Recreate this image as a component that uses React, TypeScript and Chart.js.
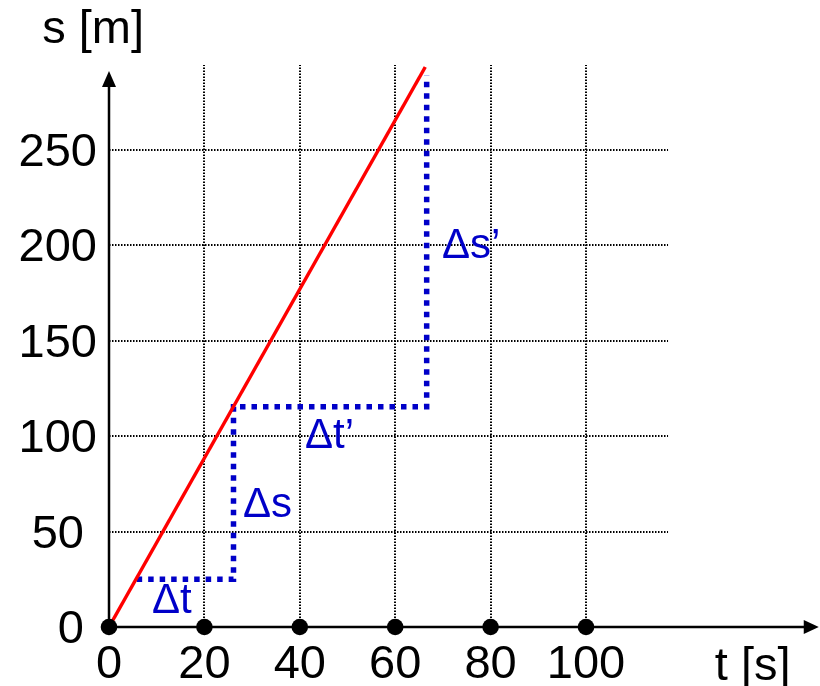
import React, { useEffect, useRef } from "react";
import { Chart, registerables } from "chart.js";

Chart.register(...registerables);

// ---- data ----
const xTicks = [0, 20, 40, 60, 80, 100];
const yTicks = [0, 50, 100, 150, 200, 250];
const xTickLabels = ["0", "20", "40", "60", "80", "100"];
const yTickLabels = ["0", "50", "100", "150", "200", "250"];

// s(t) red line
const lineT = [0, 66.3];
const lineS = [0, 293.5];

// blue dotted step path (Δt, Δs, Δt', Δs')
const pathT = [5.8, 26.1, 26.1, 66.6, 66.6];
const pathS = [25.0, 25.0, 115.5, 115.5, 289];

// markers on the t axis
const dotT = [0, 20, 40, 60, 80, 100];
const dotS = [0, 0, 0, 0, 0, 0];

// Δ labels
const deltaTexts = ["Δt", "Δs", "Δt’", "Δs’"];
const deltaT = [9.0, 28.1, 41.1, 69.8];
const deltaS = [7.3, 57.7, 93.8, 193.4];

// grid / axis extents
const gridTopS = 294.5;
const gridRightT = 117.2;
const yAxisTopS = 291.4;
const xAxisEndT = 148.8;

const yTitle = "s [m]";
const xTitle = "t [s]";
const yTitleT = -14.0;
const yTitleS = 306.0;
const xTitleT = 127.0;
const xTitleS = -27.8;

const FONT = "'Liberation Sans', Arial, Helvetica, sans-serif";
const BLUE = "#0000c8";

const overlayPlugin = {
  id: "overlay",
  beforeDatasetsDraw(chart: any) {
    const ctx = chart.ctx;
    const xs = chart.scales.x;
    const ys = chart.scales.y;
    const x0 = xs.getPixelForValue(0);
    const y0 = ys.getPixelForValue(0);
    ctx.save();
    // dotted grid
    ctx.strokeStyle = "#000";
    ctx.lineWidth = 2;
    ctx.setLineDash([1.5, 1.5]);
    xTicks.forEach((t) => {
      if (t === 0) return;
      const px = Math.round(xs.getPixelForValue(t));
      ctx.beginPath();
      ctx.moveTo(px, y0);
      ctx.lineTo(px, ys.getPixelForValue(gridTopS));
      ctx.stroke();
    });
    yTicks.forEach((s) => {
      if (s === 0) return;
      const py = Math.round(ys.getPixelForValue(s));
      ctx.beginPath();
      ctx.moveTo(x0, py);
      ctx.lineTo(xs.getPixelForValue(gridRightT), py);
      ctx.stroke();
    });
    ctx.setLineDash([]);
    // axes with arrows
    ctx.lineWidth = 2.5;
    const yTop = ys.getPixelForValue(yAxisTopS);
    const xEnd = xs.getPixelForValue(xAxisEndT);
    ctx.beginPath();
    ctx.moveTo(x0, y0);
    ctx.lineTo(x0, yTop + 12);
    ctx.moveTo(x0, y0);
    ctx.lineTo(xEnd - 12, y0);
    ctx.stroke();
    ctx.fillStyle = "#000";
    ctx.beginPath();
    ctx.moveTo(x0, yTop);
    ctx.lineTo(x0 - 7, yTop + 16);
    ctx.lineTo(x0 + 7, yTop + 16);
    ctx.closePath();
    ctx.fill();
    ctx.beginPath();
    ctx.moveTo(xEnd, y0);
    ctx.lineTo(xEnd - 15, y0 - 7);
    ctx.lineTo(xEnd - 15, y0 + 7);
    ctx.closePath();
    ctx.fill();
    ctx.restore();
  },
  afterDraw(chart: any) {
    const ctx = chart.ctx;
    const xs = chart.scales.x;
    const ys = chart.scales.y;
    const y0 = ys.getPixelForValue(0);
    ctx.save();
    ctx.fillStyle = "#000";
    ctx.font = `47px ${FONT}`;
    ctx.textBaseline = "alphabetic";
    // x tick labels
    ctx.textAlign = "center";
    xTicks.forEach((t, i) => {
      ctx.fillText(xTickLabels[i], xs.getPixelForValue(t), y0 + 51);
    });
    // y tick labels
    ctx.textAlign = "right";
    yTicks.forEach((s, i) => {
      const lbl = yTickLabels[i];
      const px = lbl.length >= 3 ? 97 : 84;
      ctx.fillText(lbl, px, ys.getPixelForValue(s) + 16);
    });
    // axis titles
    ctx.textAlign = "left";
    ctx.fillText(yTitle, xs.getPixelForValue(yTitleT), ys.getPixelForValue(yTitleS));
    ctx.fillText(xTitle, xs.getPixelForValue(xTitleT), ys.getPixelForValue(xTitleS));
    // delta labels
    ctx.fillStyle = BLUE;
    ctx.font = `42px ${FONT}`;
    deltaTexts.forEach((txt, i) => {
      ctx.fillText(txt, xs.getPixelForValue(deltaT[i]), ys.getPixelForValue(deltaS[i]));
    });
    ctx.restore();
  },
};

export default function App() {
  const ref = useRef<HTMLCanvasElement | null>(null);
  useEffect(() => {
    if (!ref.current) return;
    const chart = new Chart(ref.current, {
      type: "scatter",
      data: {
        datasets: [
          {
            type: "scatter",
            data: dotT.map((t, i) => ({ x: t, y: dotS[i] })),
            pointRadius: 8.3,
            pointBackgroundColor: "#000",
            pointBorderColor: "#000",
            pointBorderWidth: 0,
            clip: false,
            order: 0,
          } as any,
          {
            type: "line",
            data: lineT.map((t, i) => ({ x: t, y: lineS[i] })),
            borderColor: "#ff0000",
            borderWidth: 3.5,
            pointRadius: 0,
            fill: false,
            tension: 0,
            clip: false,
            order: 1,
          } as any,
          {
            type: "line",
            data: pathT.map((t, i) => ({ x: t, y: pathS[i] })),
            borderColor: BLUE,
            borderWidth: 5.5,
            borderDash: [5.5, 6],
            borderCapStyle: "butt",
            borderJoinStyle: "miter",
            pointRadius: 0,
            fill: false,
            tension: 0,
            clip: false,
            order: 2,
          } as any,
        ],
      },
      options: {
        responsive: false,
        animation: false,
        layout: { padding: { left: 109, right: 234, top: 150, bottom: 59 } },
        plugins: { legend: { display: false }, tooltip: { enabled: false } },
        events: [],
        scales: {
          x: { type: "linear", min: 0, max: 100, display: false },
          y: { type: "linear", min: 0, max: 250, display: false },
        },
      },
      plugins: [overlayPlugin],
    });
    return () => chart.destroy();
  }, []);
  return (
    <div style={{ position: "absolute", left: 0, top: 0, width: 820, height: 686, background: "#fff" }}>
      <canvas ref={ref} width={820} height={686} style={{ display: "block" }} />
    </div>
  );
}
